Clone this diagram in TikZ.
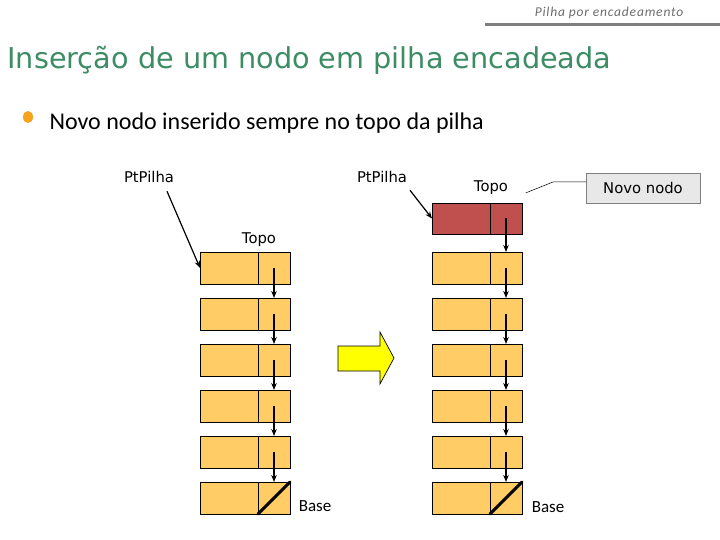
\documentclass[tikz,border=0pt]{standalone}
\usepackage{fontspec}
\setmainfont{Carlito}
\newfontfamily\labelfont{DejaVu Sans}
\newfontfamily\titlefont{DejaVu Sans}
\usetikzlibrary{arrows.meta,positioning,calc}
\definecolor{cellfill}{HTML}{FFCC66}
\definecolor{topred}{HTML}{C0504D}
\definecolor{titlegreen}{HTML}{3C8C64}
\definecolor{headgray}{HTML}{7F7F7F}
\definecolor{bulletorange}{HTML}{F7A21B}
\definecolor{novofill}{HTML}{E8E8E8}
\definecolor{setayellow}{HTML}{FFFF00}

\tikzset{
  databox/.style={draw, fill=cellfill, line width=0.8pt, outer sep=0pt, inner sep=0pt,
    minimum width=58pt, minimum height=32pt, anchor=north west},
  ptrbox/.style={draw, fill=cellfill, line width=0.8pt, outer sep=0pt, inner sep=0pt,
    minimum width=32pt, minimum height=32pt, anchor=west},
  ptrarrow/.style={-{Stealth[length=7pt, width=5.5pt]}, line width=1.4pt},
  lbl/.style={font=\labelfont\fontsize{14.8}{17}\selectfont},
  baselbl/.style={font=\fontsize{17}{19}\selectfont},
}

\begin{document}
\begin{tikzpicture}[x=1pt, y=-1pt]
  \useasboundingbox (0,0) rectangle (720,540);

  % cabecalho
  \node[font=\itshape\fontsize{13.5}{15}\selectfont\addfontfeature{LetterSpace=6}, text=headgray!85!black] (cabec) at (609,13) {Pilha por encadeamento};
  \draw[headgray, line width=3pt] (485,25) -- (720,25);

  \node[anchor=west, font=\titlefont\fontsize{28.7}{32}\selectfont, text=titlegreen] (titulo) at (4,60) {Inserção de um nodo em pilha encadeada};

  \fill[bulletorange] (28,117) ellipse [x radius=5, y radius=6];
  \node[anchor=west, font=\fontsize{24}{28}\selectfont] (item) at (46,123) {Novo nodo inserido sempre no topo da pilha};

  % pilha antes
  \foreach \i in {0,...,5} {
    \node[databox] (ld\i) at (200,252+46*\i) {};
    \node[ptrbox] (lp\i) at (ld\i.east) {};
  }
  \foreach \i [count=\j from 1] in {0,...,4}
    \draw[ptrarrow] (lp\i.center) -- (lp\j.north);
  \draw[line width=3pt, line cap=round] (lp5.south west) -- (lp5.north east);

  % pilha depois
  \node[databox, fill=topred, minimum height=31pt] (rdn) at (432,203) {};
  \node[ptrbox, fill=topred, minimum height=31pt] (rpn) at (rdn.east) {};
  \foreach \i in {0,...,5} {
    \node[databox] (rd\i) at (432,252+46*\i) {};
    \node[ptrbox] (rp\i) at (rd\i.east) {};
  }
  \draw[ptrarrow] (rpn.center) -- (rp0.north);
  \foreach \i [count=\j from 1] in {0,...,4}
    \draw[ptrarrow] (rp\i.center) -- (rp\j.north);
  \draw[line width=3pt, line cap=round] (rp5.south west) -- (rp5.north east);

  % rotulos
  \node[lbl] (lpilha) at (149,177) {PtPilha};
  \node[lbl] (rpilha) at (382,177) {PtPilha};
  \node[lbl] (ltopo) at (259,240) {Topo};
  \node[lbl] (rtopo) at (491,188) {Topo};
  \node[baselbl] (lbase) at (315,506) {Base};
  \node[baselbl] (rbase) at (548,507) {Base};
  \node[lbl, draw=headgray, fill=novofill, minimum width=114pt, minimum height=30pt] (novo) at (643,188) {Novo nodo};

  \draw[ptrarrow, line width=1.2pt] ([shift={(18,5)}]lpilha.south) -- (ld0.west);
  \draw[ptrarrow, line width=1.2pt] ([shift={(28,4)}]rpilha.south) -- (rdn.west);
  \coordinate (joelho) at (553,182);
  \draw[line width=0.5pt] ([shift={(0,-6)}]novo.west) -- (joelho) -- ([shift={(14,5)}]rtopo.east);

  % seta amarela
  \draw[fill=setayellow, line width=0.7pt, line join=miter] (338,346) -- (380,346) -- (380,332) -- (394,358)
    -- (380,384) -- (380,371) -- (338,371) -- cycle;
\end{tikzpicture}
\end{document}
